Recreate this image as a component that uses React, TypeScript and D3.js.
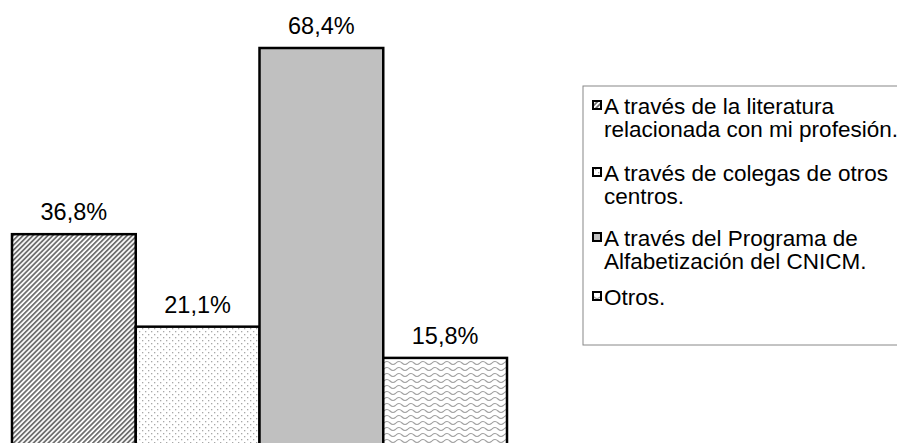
import React from "react";
import * as d3 from "d3";

const categories = [
  "A través de la literatura relacionada con mi profesión.",
  "A través de colegas de otros centros.",
  "A través del Programa de Alfabetización del CNICM.",
  "Otros.",
];
const values = [36.8, 21.1, 68.4, 15.8];
const labels = ["36,8%", "21,1%", "68,4%", "15,8%"];
const legendLines = [
  ["A través de la literatura", "relacionada con mi profesión."],
  ["A través de colegas de otros", "centros."],
  ["A través del Programa de", "Alfabetización del CNICM."],
  ["Otros."],
];
const fills = ["url(#pStripe)", "url(#pDots)", "#c0c0c0", "url(#pWave)"];

const W = 897;
const H = 443;

export default function App() {
  const x = d3.scaleBand<number>().domain(d3.range(values.length)).range([12, 507]).padding(0);
  const y = d3.scaleLinear().domain([0, 68.4]).range([451, 48]);
  const font = "Liberation Sans, Arial, sans-serif";

  const legendX = 583;
  const legendY = 86;
  const baselines = [114, 181, 246, 305];

  return (
    <svg width={W} height={H} style={{ position: "absolute", left: 0, top: 0 }}>
      <defs>
        <pattern id="pStripe" width="3.5" height="3.5" patternUnits="userSpaceOnUse" patternTransform="rotate(45)">
          <rect width="3.5" height="3.5" fill="#ffffff" />
          <rect width="1.8" height="3.5" fill="#707070" />
        </pattern>
        <pattern id="pDots" width="6" height="6" patternUnits="userSpaceOnUse">
          <rect width="6" height="6" fill="#ffffff" />
          <rect x="1" y="1" width="1.3" height="1.3" fill="#a8a8a8" />
          <rect x="4" y="4" width="1.3" height="1.3" fill="#a8a8a8" />
        </pattern>
        <pattern id="pWave" width="12" height="6" patternUnits="userSpaceOnUse">
          <rect width="12" height="6" fill="#ffffff" />
          <path d="M0,3 Q3,0 6,3 T12,3" fill="none" stroke="#a0a0a0" strokeWidth="1.1" />
        </pattern>
      </defs>
      {values.map((v, i) => (
        <g key={i}>
          <rect
            x={x(i)!}
            y={y(v)}
            width={x.bandwidth()}
            height={y(0) - y(v)}
            fill={fills[i]}
            stroke="#000"
            strokeWidth={2.5}
          />
          <text
            x={x(i)! + x.bandwidth() / 2}
            y={y(v) - 14}
            textAnchor="middle"
            fontFamily={font}
            fontSize={23.5}
            fill="#000"
          >
            {labels[i]}
          </text>
        </g>
      ))}
      <rect x={legendX} y={legendY} width={W - legendX + 5} height={345 - legendY} fill="#fff" stroke="#888" strokeWidth={1} />
      {categories.map((c, i) => (
        <g key={c}>
          <rect x={593} y={baselines[i] - 13} width={8} height={8} fill={fills[i]} stroke="#000" strokeWidth={2} />
          {legendLines[i].map((ln, j) => (
            <text key={j} x={604} y={baselines[i] + j * 23} fontFamily={font} fontSize={22.5} fill="#000">
              {ln}
            </text>
          ))}
        </g>
      ))}
    </svg>
  );
}
